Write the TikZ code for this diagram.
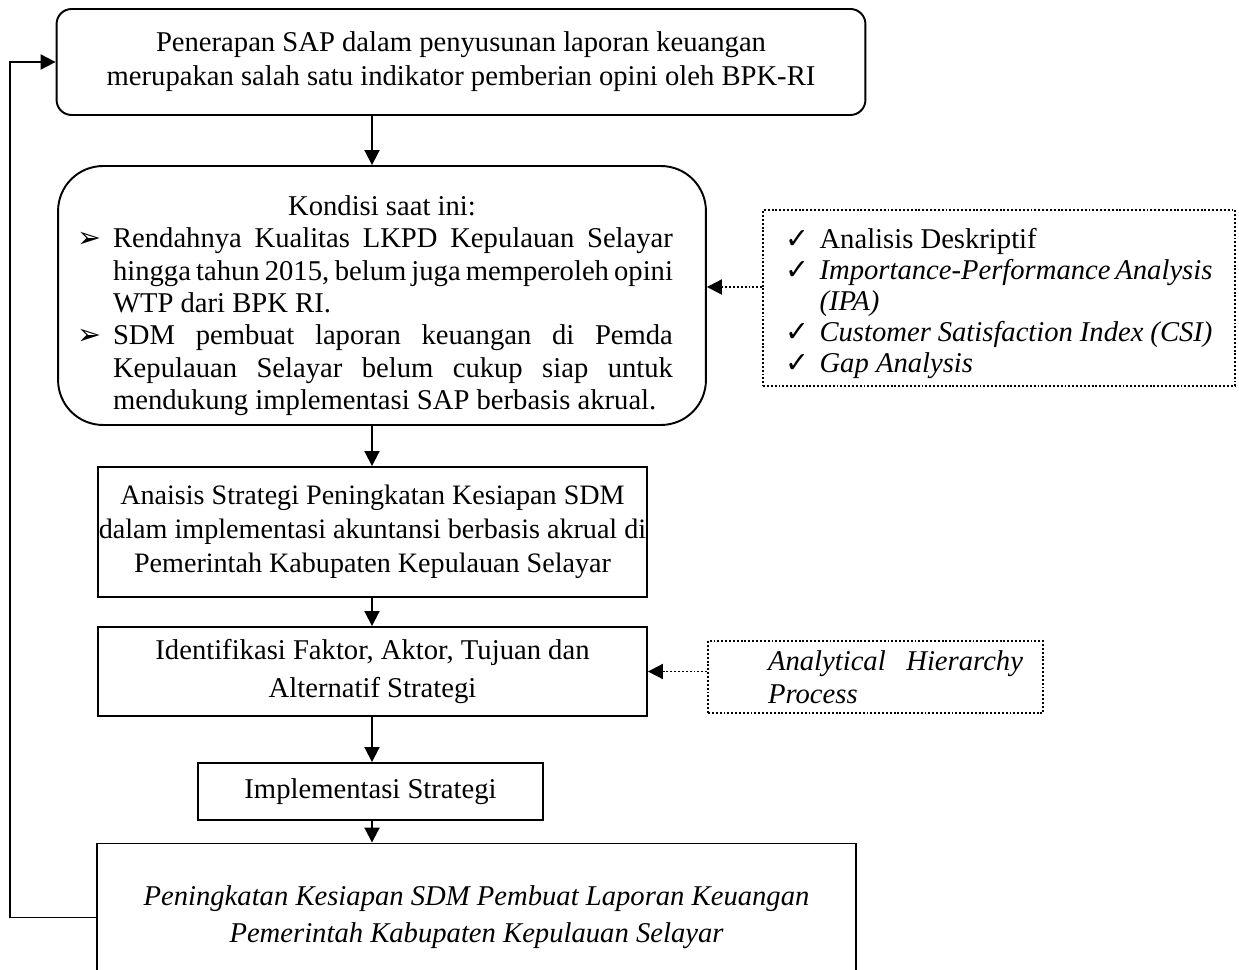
\documentclass[tikz,border=0pt]{standalone}
\usepackage{fontspec}
\setmainfont{Liberation Serif}
\newfontfamily\symfont{DejaVu Sans}
\usetikzlibrary{arrows.meta, positioning}

\newcommand{\arrowitem}{\par\noindent\hangindent=0.72cm\hangafter=1\makebox[0.72cm][l]{\symfont ➢}}
\newcommand{\checkitem}{\par\noindent\hangindent=0.68cm\hangafter=1\makebox[0.68cm][l]{\symfont ✓}}

\begin{document}
\begin{tikzpicture}[
    x=0.02cm, y=-0.02cm,
    every node/.style={font=\fontsize{16.3}{19.4}\selectfont},
    roundbox/.style={draw, line width=1.1pt, rounded corners=0.3cm, align=center},
    biground/.style={draw, line width=1.1pt, rounded corners=0.9cm},
    flatbox/.style={draw, line width=1.1pt, align=center},
    methodbox/.style={draw, line width=1.1pt, dash pattern=on 1.1pt off 1.1pt},
    flow/.style={-{Triangle[length=3mm, width=3mm]}, line width=1.1pt},
    dotflow/.style={-{Triangle[length=3mm, width=3mm]}, line width=1.1pt, dash pattern=on 1.1pt off 1.1pt}
]
    \clip (0,0) rectangle (1239,969);
    \coordinate (axis) at (372,0);
    \coordinate (loop) at (10,0);
    \coordinate (probe) at (0,287);

    % Main flow
    \node[roundbox, minimum width=16.18cm, minimum height=2.12cm] (penerapan) at (461,62)
        {Penerapan SAP dalam penyusunan laporan keuangan\\merupakan salah satu indikator pemberian opini oleh BPK-RI};

    \node[biground, minimum width=12.96cm, minimum height=5.18cm, text width=12.2cm, align=justify,
          font=\fontsize{16.3}{18.4}\selectfont] (kondisi) at (382,295.5)
        {\hyphenpenalty=10000 \exhyphenpenalty=10000
         {\centering\rule{0pt}{0.8cm}Kondisi saat ini:\par}
         \rightskip=0.28cm
         \arrowitem Rendahnya Kualitas LKPD Kepulauan Selayar hingga tahun 2015, belum juga memperoleh opini WTP dari BPK RI.
         \arrowitem SDM pembuat laporan keuangan di Pemda Kepulauan Selayar belum cukup siap untuk mendukung implementasi SAP berbasis akrual.\par};

    \node[flatbox, minimum width=10.98cm, minimum height=2.6cm, inner xsep=0pt, font=\fontsize{16}{19.4}\selectfont] (analisis) at (372.5,532)
        {Anaisis Strategi Peningkatan Kesiapan SDM\\dalam implementasi akuntansi berbasis akrual di\\Pemerintah Kabupaten Kepulauan Selayar};

    \node[flatbox, minimum width=10.98cm, minimum height=1.78cm, font=\fontsize{16.3}{22}\selectfont] (identifikasi) at (372.5,671.5)
        {Identifikasi Faktor, Aktor, Tujuan dan\\Alternatif Strategi};

    \node[flatbox, minimum width=6.9cm, minimum height=1.14cm] (implementasi) at (370.5,791.5)
        {Implementasi Strategi};

    \node[flatbox, minimum width=15.18cm, minimum height=2.96cm, font=\fontsize{16.3}{21}\selectfont\itshape] (hasil) at (476.5,917.5)
        {Peningkatan Kesiapan SDM Pembuat Laporan Keuangan\\Pemerintah Kabupaten Kepulauan Selayar};

    % Methods
    \node[methodbox, minimum width=9.44cm, minimum height=3.52cm, text width=8.54cm, align=justify,
          font=\fontsize{16.3}{17.6}\selectfont] (metode) at (999,298)
        {\checkitem Analisis Deskriptif
         \checkitem \textit{Importance-Performance Analysis (IPA)}
         \checkitem \textit{Customer Satisfaction Index (CSI)}
         \checkitem \textit{Gap Analysis}\par};

    \node[methodbox, minimum width=6.7cm, minimum height=1.44cm, text width=5.9cm, align=justify,
          font=\fontsize{16.3}{19}\selectfont\itshape] (ahp) at (875.5,677)
        {\leftskip=0.8cm Analytical Hierarchy Process\par};

    % Relations
    \draw[flow] (penerapan.south -| axis) -- (kondisi.north -| axis);
    \draw[flow] (kondisi.south -| axis) -- (analisis.north -| axis);
    \draw[flow] (analisis.south -| axis) -- (identifikasi.north -| axis);
    \draw[flow] (identifikasi.south -| axis) -- (implementasi.north -| axis);
    \draw[flow] (implementasi.south -| axis) -- (hasil.north -| axis);
    \draw[dotflow] (metode.west |- probe) -- (kondisi.east |- probe);
    \draw[dotflow] (ahp.west |- identifikasi.east) -- (identifikasi.east);
    \draw[flow] (hasil.west) -- (hasil.west -| loop) -- (loop |- penerapan.west) -- (penerapan.west);
\end{tikzpicture}
\end{document}
